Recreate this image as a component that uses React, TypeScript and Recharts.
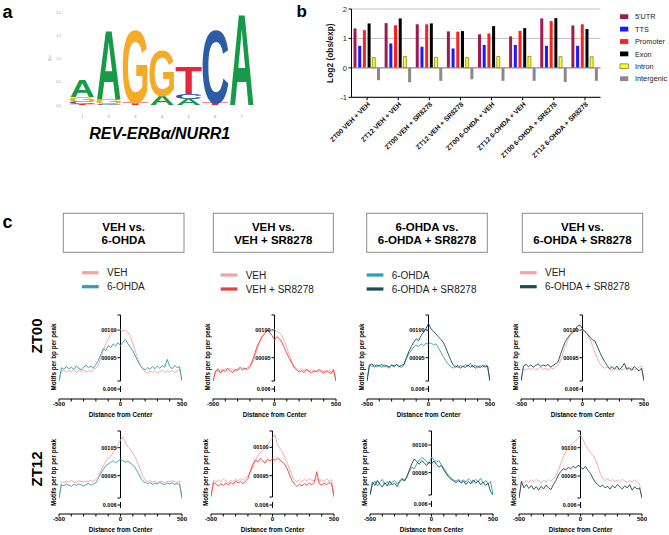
import React from 'react';
import {
  BarChart, Bar, XAxis, YAxis, CartesianGrid, ReferenceLine,
  LineChart, Line,
} from 'recharts';

const FF = '"Liberation Sans", Arial, Helvetica, sans-serif';

// ---------- Panel a: sequence logo ----------
const logoPositions = ['1', '2', '3', '4', '5', '6', '7'];
const logoLetters = [
  ['T', 'C', 'G', 'A'],
  ['C', 'G', 'A'],
  ['T', 'G'],
  ['A', 'G'],
  ['A', 'C', 'T'],
  ['T', 'C'],
  ['A'],
];
const logoBits = [
  [0.02, 0.05, 0.1, 0.36],
  [0.03, 0.1, 1.5],
  [0.05, 1.6],
  [0.2, 1.0],
  [0.13, 0.12, 0.6],
  [0.05, 1.6],
  [2.0],
];
const logoTicks = [0, 0.5, 1, 1.5, 2];

// ---------- Panel b: genomic distribution ----------
const regionCats = [
  'ZT00 VEH + VEH', 'ZT12 VEH + VEH', 'ZT00 VEH + SR8278', 'ZT12 VEH + SR8278',
  'ZT00 6-OHDA + VEH', 'ZT12 6-OHDA + VEH', 'ZT00 6-OHDA + SR8278', 'ZT12 6-OHDA + SR8278',
];
const utr5 = [1.34, 1.52, 1.48, 1.24, 1.14, 1.07, 1.68, 1.44];
const tts = [0.75, 0.83, 0.72, 0.66, 0.78, 0.78, 0.75, 0.75];
const promoter = [1.28, 1.45, 1.48, 1.23, 1.17, 1.26, 1.59, 1.48];
const exon = [1.51, 1.68, 1.51, 1.25, 1.42, 1.35, 1.69, 1.32];
const intron = [0.35, 0.39, 0.36, 0.35, 0.39, 0.39, 0.38, 0.38];
const intergenic = [-0.42, -0.49, -0.44, -0.39, -0.44, -0.44, -0.48, -0.44];
const regionTicks = [-1, 0, 1, 2];

// ---------- Panel c: motif density profiles ----------
const positions = [
  -500, -480, -460, -440, -420, -400, -380, -360, -340, -320, -300, -280, -260, -240, -220, -200, -180,
  -160, -140, -120, -100, -80, -60, -40, -20, 0, 20, 40, 60, 80, 100, 120, 140, 160, 180, 200, 220,
  240, 260, 280, 300, 320, 340, 360, 380, 400, 420, 440, 460, 480, 500,
];
const xTicks = [-500, -400, -300, -200, -100, 0, 100, 200, 300, 400, 500];
const xTickLabels = ['-500', '', '', '', '', '0', '', '', '', '', '500'];

const zt00_c1_veh = [0.00908, 0.00926, 0.00928, 0.00924, 0.00927, 0.00925, 0.00929, 0.00924, 0.00927, 0.00925, 0.00928, 0.00923, 0.00927, 0.00925, 0.00929, 0.00931, 0.00936, 0.00950, 0.00963, 0.00975, 0.00984, 0.00992, 0.00997, 0.00999, 0.01001, 0.01000, 0.00998, 0.01000, 0.00996, 0.00988, 0.00976, 0.00962, 0.00948, 0.00937, 0.00929, 0.00925, 0.00922, 0.00926, 0.00923, 0.00927, 0.00922, 0.00925, 0.00928, 0.00923, 0.00926, 0.00924, 0.00927, 0.00923, 0.00926, 0.00929, 0.00908];
const zt00_c1_ohda = [0.00908, 0.00932, 0.00929, 0.00934, 0.00930, 0.00933, 0.00929, 0.00935, 0.00931, 0.00928, 0.00933, 0.00936, 0.00932, 0.00935, 0.00931, 0.00938, 0.00945, 0.00956, 0.00966, 0.00963, 0.00972, 0.00968, 0.00975, 0.00971, 0.00977, 0.00972, 0.00978, 0.00983, 0.00975, 0.00969, 0.00962, 0.00953, 0.00944, 0.00936, 0.00931, 0.00928, 0.00932, 0.00929, 0.00934, 0.00930, 0.00935, 0.00931, 0.00936, 0.00933, 0.00947, 0.00934, 0.00930, 0.00936, 0.00932, 0.00934, 0.00908];
const zt00_c2_veh = [0.00908, 0.00927, 0.00925, 0.00929, 0.00926, 0.00930, 0.00927, 0.00931, 0.00928, 0.00926, 0.00930, 0.00928, 0.00932, 0.00929, 0.00933, 0.00935, 0.00940, 0.00952, 0.00966, 0.00980, 0.00990, 0.00995, 0.00999, 0.01000, 0.00998, 0.01001, 0.00997, 0.00995, 0.00990, 0.00980, 0.00968, 0.00956, 0.00944, 0.00935, 0.00930, 0.00927, 0.00931, 0.00926, 0.00929, 0.00925, 0.00928, 0.00924, 0.00927, 0.00925, 0.00928, 0.00926, 0.00923, 0.00927, 0.00925, 0.00929, 0.00908];
const zt00_c2_vehSR = [0.00908, 0.00924, 0.00930, 0.00922, 0.00928, 0.00925, 0.00931, 0.00926, 0.00923, 0.00929, 0.00927, 0.00933, 0.00928, 0.00931, 0.00929, 0.00934, 0.00944, 0.00958, 0.00971, 0.00979, 0.00988, 0.00993, 0.01000, 0.00996, 0.00990, 0.00982, 0.00988, 0.00984, 0.00978, 0.00968, 0.00958, 0.00949, 0.00940, 0.00932, 0.00928, 0.00924, 0.00927, 0.00923, 0.00929, 0.00926, 0.00922, 0.00927, 0.00924, 0.00929, 0.00925, 0.00922, 0.00927, 0.00924, 0.00921, 0.00928, 0.00908];
const zt00_c3_ohda = [0.00908, 0.00938, 0.00934, 0.00937, 0.00933, 0.00936, 0.00932, 0.00937, 0.00934, 0.00931, 0.00936, 0.00933, 0.00937, 0.00935, 0.00932, 0.00937, 0.00948, 0.00957, 0.00963, 0.00969, 0.00973, 0.00970, 0.00975, 0.00972, 0.00976, 0.00974, 0.00977, 0.00973, 0.00975, 0.00968, 0.00960, 0.00952, 0.00945, 0.00939, 0.00934, 0.00931, 0.00935, 0.00932, 0.00936, 0.00933, 0.00938, 0.00934, 0.00940, 0.00933, 0.00937, 0.00932, 0.00936, 0.00933, 0.00937, 0.00935, 0.00908];
const zt00_c3_ohdaSR = [0.00908, 0.00936, 0.00939, 0.00933, 0.00937, 0.00935, 0.00938, 0.00934, 0.00936, 0.00933, 0.00937, 0.00935, 0.00938, 0.00934, 0.00936, 0.00938, 0.00950, 0.00961, 0.00970, 0.00978, 0.00984, 0.00981, 0.00990, 0.00996, 0.01003, 0.01012, 0.01002, 0.00998, 0.00993, 0.00988, 0.00983, 0.00978, 0.00968, 0.00957, 0.00946, 0.00937, 0.00933, 0.00936, 0.00931, 0.00935, 0.00932, 0.00937, 0.00933, 0.00936, 0.00931, 0.00935, 0.00932, 0.00936, 0.00933, 0.00935, 0.00908];
const zt00_c4_veh = [0.00908, 0.00930, 0.00928, 0.00931, 0.00929, 0.00932, 0.00928, 0.00930, 0.00933, 0.00929, 0.00931, 0.00928, 0.00932, 0.00930, 0.00933, 0.00936, 0.00944, 0.00957, 0.00970, 0.00981, 0.00990, 0.00995, 0.00998, 0.01000, 0.01001, 0.00999, 0.00997, 0.00992, 0.00984, 0.00972, 0.00960, 0.00949, 0.00940, 0.00934, 0.00931, 0.00933, 0.00930, 0.00928, 0.00932, 0.00929, 0.00931, 0.00928, 0.00930, 0.00933, 0.00929, 0.00931, 0.00928, 0.00930, 0.00933, 0.00935, 0.00908];
const zt00_c4_ohdaSR = [0.00908, 0.00935, 0.00938, 0.00934, 0.00937, 0.00933, 0.00936, 0.00939, 0.00934, 0.00937, 0.00935, 0.00938, 0.00933, 0.00936, 0.00939, 0.00942, 0.00955, 0.00968, 0.00979, 0.00986, 0.00992, 0.00996, 0.01001, 0.01007, 0.01009, 0.01002, 0.00997, 0.00993, 0.00987, 0.00983, 0.00980, 0.00971, 0.00960, 0.00951, 0.00943, 0.00936, 0.00930, 0.00934, 0.00929, 0.00935, 0.00928, 0.00933, 0.00940, 0.00929, 0.00932, 0.00927, 0.00934, 0.00930, 0.00926, 0.00931, 0.00908];

const zt12_c1_veh = [0.00870, 0.00930, 0.00925, 0.00931, 0.00927, 0.00933, 0.00928, 0.00926, 0.00932, 0.00929, 0.00927, 0.00931, 0.00928, 0.00933, 0.00930, 0.00936, 0.00950, 0.00968, 0.00985, 0.01000, 0.01012, 0.01020, 0.01032, 0.01045, 0.01060, 0.01078, 0.01089, 0.01070, 0.01052, 0.01045, 0.01030, 0.01015, 0.00995, 0.00972, 0.00950, 0.00935, 0.00929, 0.00932, 0.00927, 0.00930, 0.00926, 0.00931, 0.00928, 0.00925, 0.00930, 0.00927, 0.00932, 0.00928, 0.00926, 0.00931, 0.00870];
const zt12_c1_ohda = [0.00870, 0.00918, 0.00914, 0.00921, 0.00916, 0.00912, 0.00919, 0.00915, 0.00921, 0.00917, 0.00913, 0.00919, 0.00922, 0.00916, 0.00921, 0.00925, 0.00940, 0.00958, 0.00972, 0.00985, 0.00992, 0.00998, 0.01003, 0.00996, 0.01002, 0.01009, 0.01003, 0.00998, 0.01002, 0.00995, 0.00988, 0.00978, 0.00962, 0.00945, 0.00932, 0.00926, 0.00921, 0.00925, 0.00919, 0.00924, 0.00920, 0.00926, 0.00921, 0.00918, 0.00924, 0.00920, 0.00925, 0.00919, 0.00922, 0.00918, 0.00870];
const zt12_c2_veh = [0.00913, 0.00942, 0.00939, 0.00943, 0.00940, 0.00944, 0.00941, 0.00938, 0.00942, 0.00940, 0.00944, 0.00941, 0.00945, 0.00942, 0.00946, 0.00949, 0.00956, 0.00965, 0.00975, 0.00985, 0.00990, 0.00995, 0.01000, 0.01004, 0.01012, 0.01016, 0.01022, 0.01005, 0.00998, 0.00992, 0.00982, 0.00972, 0.00961, 0.00950, 0.00942, 0.00939, 0.00943, 0.00940, 0.00944, 0.00941, 0.00945, 0.00942, 0.00940, 0.00944, 0.00941, 0.00943, 0.00940, 0.00944, 0.00941, 0.00943, 0.00913];
const zt12_c2_vehSR = [0.00913, 0.00938, 0.00935, 0.00932, 0.00936, 0.00933, 0.00937, 0.00934, 0.00938, 0.00935, 0.00941, 0.00937, 0.00940, 0.00936, 0.00940, 0.00945, 0.00958, 0.00970, 0.00978, 0.00974, 0.00980, 0.00976, 0.00972, 0.00979, 0.00976, 0.00980, 0.00977, 0.00981, 0.00978, 0.00974, 0.00970, 0.00962, 0.00951, 0.00941, 0.00935, 0.00931, 0.00935, 0.00932, 0.00936, 0.00933, 0.00937, 0.00934, 0.00938, 0.00957, 0.00936, 0.00933, 0.00937, 0.00934, 0.00938, 0.00936, 0.00913];
const zt12_c3_ohda = [0.00910, 0.00928, 0.00935, 0.00926, 0.00932, 0.00938, 0.00929, 0.00934, 0.00927, 0.00933, 0.00936, 0.00930, 0.00935, 0.00940, 0.00937, 0.00944, 0.00952, 0.00960, 0.00957, 0.00966, 0.00973, 0.00977, 0.00975, 0.00970, 0.00966, 0.00978, 0.00974, 0.00969, 0.00972, 0.00964, 0.00958, 0.00951, 0.00945, 0.00940, 0.00937, 0.00935, 0.00938, 0.00934, 0.00937, 0.00933, 0.00939, 0.00935, 0.00932, 0.00938, 0.00934, 0.00940, 0.00931, 0.00936, 0.00930, 0.00934, 0.00910];
const zt12_c3_ohdaSR = [0.00910, 0.00933, 0.00927, 0.00936, 0.00929, 0.00924, 0.00932, 0.00926, 0.00935, 0.00928, 0.00931, 0.00925, 0.00933, 0.00938, 0.00935, 0.00942, 0.00955, 0.00966, 0.00975, 0.00970, 0.00965, 0.00972, 0.00968, 0.00963, 0.00969, 0.00966, 0.00971, 0.00965, 0.00960, 0.00963, 0.00955, 0.00948, 0.00942, 0.00938, 0.00935, 0.00932, 0.00936, 0.00931, 0.00935, 0.00929, 0.00934, 0.00930, 0.00937, 0.00931, 0.00935, 0.00928, 0.00933, 0.00927, 0.00931, 0.00916, 0.00910];
const zt12_c4_veh = [0.00911, 0.00941, 0.00938, 0.00942, 0.00939, 0.00943, 0.00940, 0.00944, 0.00941, 0.00938, 0.00942, 0.00940, 0.00944, 0.00941, 0.00945, 0.00950, 0.00960, 0.00972, 0.00984, 0.00993, 0.00999, 0.01004, 0.01008, 0.01012, 0.01017, 0.01022, 0.01015, 0.01005, 0.00998, 0.00992, 0.00987, 0.00980, 0.00968, 0.00955, 0.00946, 0.00942, 0.00945, 0.00941, 0.00944, 0.00940, 0.00943, 0.00940, 0.00944, 0.00941, 0.00938, 0.00942, 0.00939, 0.00943, 0.00940, 0.00936, 0.00911];
const zt12_c4_ohdaSR = [0.00911, 0.00940, 0.00929, 0.00935, 0.00928, 0.00933, 0.00926, 0.00931, 0.00925, 0.00932, 0.00927, 0.00934, 0.00929, 0.00926, 0.00935, 0.00942, 0.00952, 0.00958, 0.00963, 0.00961, 0.00965, 0.00963, 0.00967, 0.00964, 0.00969, 0.00966, 0.00962, 0.00967, 0.00960, 0.00955, 0.00946, 0.00939, 0.00935, 0.00931, 0.00934, 0.00929, 0.00932, 0.00927, 0.00933, 0.00929, 0.00935, 0.00931, 0.00927, 0.00933, 0.00929, 0.00935, 0.00925, 0.00931, 0.00927, 0.00929, 0.00911];

const COL_VEH = '#f5a3a3';
const COL_OHDA = '#2f9db5';
const COL_VEHSR = '#f23a3a';
const COL_OHDASR = '#1c4b52';

const LETTER_COLORS: Record<string, string> = { A: '#17994a', C: '#2a5ca8', G: '#f5ab2a', T: '#e3283b' };
const LETTER_INK: Record<string, [number, number]> = {
  A: [0.0, 0.722], C: [0.045, 0.68], G: [0.045, 0.735], T: [0.02, 0.59],
};

const LetterShape = (props: any) => {
  const { x, y, width, height, payload, rank } = props;
  const letter = payload ? payload['l' + rank] : undefined;
  if (!letter || !height || height <= 0) return null;
  const [l, r] = LETTER_INK[letter];
  const sx = width / ((r - l) * 100);
  const sy = height / 71.6;
  return (
    <text
      transform={`translate(${x - l * 100 * sx},${y + height}) scale(${sx},${sy})`}
      x={0} y={0} fontSize={100} fontWeight="bold" fontFamily={FF}
      fill={LETTER_COLORS[letter]}
    >{letter}</text>
  );
};

const LogoChart = () => {
  const data = logoPositions.map((p, i) => {
    const row: any = { pos: p };
    logoLetters[i].forEach((l, k) => { row['h' + k] = logoBits[i][k]; row['l' + k] = l; });
    return row;
  });
  return (
    <div style={{ position: 'absolute', left: 40, top: 0 }}>
      <BarChart width={225} height={122} data={data} margin={{ top: 12.3, right: 10, bottom: 2, left: 9 }} barCategoryGap="3%">
        <XAxis dataKey="pos" axisLine={false} tickLine={false} height={14.7} tickMargin={4}
          tick={{ fontSize: 4, fill: '#888', fontFamily: FF }} />
        <YAxis domain={[0, 2]} ticks={logoTicks} width={20} axisLine={false} tickLine={false}
          tickFormatter={(v: number) => v.toFixed(1)} tick={{ fontSize: 3.5, fill: '#999', fontFamily: FF }} />
        {[0, 1, 2, 3].map((k) => (
          <Bar key={k} dataKey={'h' + k} stackId="s" isAnimationActive={false}
            shape={(p: any) => <LetterShape {...p} rank={k} />} />
        ))}
      </BarChart>
    </div>
  );
};

const regionSeries = [
  { key: 'utr5', name: "5'UTR", color: '#a11a4f', values: utr5 },
  { key: 'tts', name: 'TTS', color: '#1a1aff', values: tts },
  { key: 'promoter', name: 'Promoter', color: '#ff1f1f', values: promoter },
  { key: 'exon', name: 'Exon', color: '#000000', values: exon },
  { key: 'intron', name: 'Intron', color: '#ffff00', values: intron },
  { key: 'intergenic', name: 'Intergenic', color: '#8a8a8a', values: intergenic },
];

const CatTick = (props: any) => {
  const { x, y, payload } = props;
  return (
    <text transform={`translate(${x + 2},${y + 1}) rotate(-45)`} textAnchor="end" fontSize={6.8}
      fontWeight="bold" fontFamily={FF} fill="#111" dy="0.3em">{payload.value}</text>
  );
};

const RegionChart = () => {
  const data = regionCats.map((c, i) => {
    const row: any = { cat: c };
    regionSeries.forEach((s) => { row[s.key] = s.values[i]; });
    return row;
  });
  return (
    <div style={{ position: 'absolute', left: 300, top: 0 }}>
      <BarChart width={369} height={170} data={data} margin={{ top: 9, right: 68.5, bottom: 2.7, left: 8.5 }}
        barSize={3} barGap={1.7}>
        <CartesianGrid vertical={false} stroke="#b0b0b0" strokeWidth={0.8} />
        <XAxis dataKey="cat" interval={0} height={70} tickSize={3} tickMargin={2} stroke="#000"
          tick={<CatTick />} />
        <YAxis domain={[-1, 2]} ticks={regionTicks} width={43} stroke="#000" tickSize={3} tickMargin={1.5}
          tick={{ fontSize: 7.5, fill: '#222', fontFamily: FF }}
          label={{ value: 'Log2 (obs/exp)', angle: -90, position: 'center', fontSize: 8.4, fontWeight: 'bold', fill: '#111', fontFamily: FF }} />
        <ReferenceLine y={0} stroke="#8a8a8a" strokeWidth={1} />
        {regionSeries.map((s) => (
          <Bar key={s.key} dataKey={s.key} name={s.name} fill={s.color} isAnimationActive={false}
            stroke={s.key === 'intron' ? '#555' : undefined} strokeWidth={s.key === 'intron' ? 0.6 : 0} />
        ))}
      </BarChart>
    </div>
  );
};

type PlotCfg = {
  left: number; width: number; top: number; bottom: number;
  dom: [number, number]; ticks: { v: number; label: string }[]; breakY: number; lowY: number;
};

const SmallPlot = ({ cfg, s1, s2, c1, c2 }: { cfg: PlotCfg; s1: number[]; s2: number[]; c1: string; c2: string }) => {
  const data = positions.map((x, i) => ({ x, a: s1[i], b: s2[i] }));
  const { left, width, top, bottom, dom, ticks, breakY, lowY } = cfg;
  const plotH = bottom - top;
  const vpp = (dom[1] - dom[0]) / plotH;
  const pxToV = (py: number) => dom[0] + (bottom - py) * vpp;
  const breakV = pxToV(breakY);
  const lowV = pxToV(lowY);
  const tk = 3 * (1000 / width);
  const lblStyle = { fontSize: 5.5, fontWeight: 'bold', fill: '#000', fontFamily: FF };
  return (
    <div style={{ position: 'absolute', left: left - 10, top: top - 4 }}>
      <LineChart width={10 + width + 10} height={4 + plotH + 20 + 1} data={data}
        margin={{ top: 4, right: 10, bottom: 1, left: 0 }}>
        <XAxis dataKey="x" type="number" domain={[-500, 500]} ticks={xTicks} interval={0} allowDataOverflow
          tickFormatter={(v: number) => xTickLabels[xTicks.indexOf(v)] ?? ''}
          tickSize={2.5} tickMargin={0.5} height={20} stroke="#000"
          tick={{ fontSize: 6, fontWeight: 'bold', fill: '#000', fontFamily: FF }}
          label={{ value: 'Distance from Center', position: 'insideBottom', offset: 2, fontSize: 6.3, fontWeight: 'bold', fill: '#000', fontFamily: FF }} />
        <YAxis type="number" domain={dom} allowDataOverflow width={10} tick={false} axisLine={false} tickLine={false}
          label={{ value: 'Motifs per bp per peak', angle: -90, position: 'center', fontSize: 6.3, fontWeight: 'bold', fill: '#000', fontFamily: FF }} />
        <ReferenceLine segment={[{ x: 0, y: breakV }, { x: 0, y: dom[1] }]} stroke="#000" strokeWidth={1} ifOverflow="visible" />
        <ReferenceLine segment={[{ x: -tk, y: dom[1] }, { x: 0, y: dom[1] }]} stroke="#000" strokeWidth={1} ifOverflow="visible" />
        <ReferenceLine segment={[{ x: -tk, y: breakV }, { x: 0, y: breakV }]} stroke="#000" strokeWidth={1} ifOverflow="visible" />
        <ReferenceLine segment={[{ x: 0, y: lowV - 3 * vpp }, { x: 0, y: lowV + 3 * vpp }]} stroke="#000" strokeWidth={1} ifOverflow="visible" />
        <ReferenceLine segment={[{ x: -tk, y: lowV }, { x: 0, y: lowV }]} stroke="#000" strokeWidth={1} ifOverflow="visible"
          label={{ value: '0.006', position: 'left', offset: 1, ...lblStyle }} />
        {ticks.map((t) => (
          <ReferenceLine key={t.label} segment={[{ x: -tk, y: t.v }, { x: 0, y: t.v }]} stroke="#000" strokeWidth={1}
            ifOverflow="visible" label={{ value: t.label, position: 'left', offset: 1, ...lblStyle }} />
        ))}
        <Line type="linear" dataKey="a" stroke={c1} strokeWidth={0.9} dot={false} isAnimationActive={false} />
        <Line type="linear" dataKey="b" stroke={c2} strokeWidth={0.9} dot={false} isAnimationActive={false} />
      </LineChart>
    </div>
  );
};

const TOP_TICKS = [{ v: 0.0100, label: '00100' }, { v: 0.0095, label: '00095' }];
const topCfg = (left: number): PlotCfg => ({
  left, width: 123, top: 315, bottom: 399, dom: [0.0087545, 0.0102708], ticks: TOP_TICKS, breakY: 381, lowY: 389,
});

const plotsTop = [
  { cfg: topCfg(58.5), s1: zt00_c1_veh, s2: zt00_c1_ohda, c1: COL_VEH, c2: COL_OHDA },
  { cfg: topCfg(212.5), s1: zt00_c2_veh, s2: zt00_c2_vehSR, c1: COL_VEH, c2: COL_VEHSR },
  { cfg: topCfg(366.5), s1: zt00_c3_ohda, s2: zt00_c3_ohdaSR, c1: COL_OHDA, c2: COL_OHDASR },
  { cfg: topCfg(520.5), s1: zt00_c4_veh, s2: zt00_c4_ohdaSR, c1: COL_VEH, c2: COL_OHDASR },
];
const plotsBottom = [
  { cfg: { left: 58.5, width: 123, top: 431, bottom: 514, dom: [0.0081321, 0.0110964] as [number, number], ticks: [{ v: 0.0105, label: '00105' }, { v: 0.0095, label: '00095' }], breakY: 498, lowY: 505 }, s1: zt12_c1_veh, s2: zt12_c1_ohda, c1: COL_VEH, c2: COL_OHDA },
  { cfg: { left: 211, width: 123, top: 431, bottom: 514, dom: [0.0088257, 0.0102870] as [number, number], ticks: TOP_TICKS, breakY: 497, lowY: 505 }, s1: zt12_c2_veh, s2: zt12_c2_vehSR, c1: COL_VEH, c2: COL_VEHSR },
  { cfg: { left: 370, width: 123, top: 431, bottom: 514, dom: [0.0087545, 0.0102527] as [number, number], ticks: TOP_TICKS, breakY: 495, lowY: 504 }, s1: zt12_c3_ohda, s2: zt12_c3_ohdaSR, c1: COL_OHDA, c2: COL_OHDASR },
  { cfg: { left: 518.5, width: 123, top: 431, bottom: 514, dom: [0.0088286, 0.0102951] as [number, number], ticks: TOP_TICKS, breakY: 498, lowY: 505 }, s1: zt12_c4_veh, s2: zt12_c4_ohdaSR, c1: COL_VEH, c2: COL_OHDASR },
];

const boxes = [
  { x1: 63.3, x2: 184, l1: 'VEH vs.', l2: '6-OHDA' },
  { x1: 213.3, x2: 333.3, l1: 'VEH vs.', l2: 'VEH + SR8278' },
  { x1: 366.7, x2: 487.3, l1: '6-OHDA vs.', l2: '6-OHDA + SR8278' },
  { x1: 522.3, x2: 642.7, l1: 'VEH vs.', l2: '6-OHDA + SR8278' },
];
const legends = [
  { x: 82, y: 272.7, items: [{ n: 'VEH', c: COL_VEH }, { n: '6-OHDA', c: COL_OHDA }] },
  { x: 220.7, y: 275, items: [{ n: 'VEH', c: COL_VEH }, { n: 'VEH + SR8278', c: COL_VEHSR }] },
  { x: 366.7, y: 275, items: [{ n: '6-OHDA', c: COL_OHDA }, { n: '6-OHDA + SR8278', c: COL_OHDASR }] },
  { x: 520, y: 272.7, items: [{ n: 'VEH', c: COL_VEH }, { n: '6-OHDA + SR8278', c: COL_OHDASR }] },
];

const Overlay = () => (
  <svg width={669} height={535} style={{ position: 'absolute', left: 0, top: 0, pointerEvents: 'none' }}
    fontFamily={FF}>
    <text x={2.5} y={18} fontSize={18} fontWeight="bold">a</text>
    <text x={296.5} y={17} fontSize={17} fontWeight="bold">b</text>
    <text x={2.5} y={228} fontSize={18} fontWeight="bold">c</text>
    <text x={159.7} y={139} fontSize={16} fontWeight="bold" fontStyle="italic" textAnchor="middle">REV-ERBα/NURR1</text>
    <text transform="translate(51,58) rotate(-90)" fontSize={3.5} fill="#999" textAnchor="middle">Bits</text>
    {regionSeries.map((s, i) => {
      const yc = 16.7 + i * 12.4;
      return (
        <g key={s.key}>
          <rect x={620} y={yc - 2.4} width={8.3} height={4.8} fill={s.color}
            stroke={s.key === 'intron' ? '#555' : 'none'} strokeWidth={0.6} />
          <text x={635} y={yc + 2.6} fontSize={7.3} fill="#222">{s.name}</text>
        </g>
      );
    })}
    {boxes.map((b, i) => {
      const cx = (b.x1 + b.x2) / 2;
      return (
        <g key={i}>
          <rect x={b.x1} y={213.3} width={b.x2 - b.x1} height={39} fill="none" stroke="#8c8c8c" strokeWidth={1} />
          <text x={cx} y={231.4} fontSize={11.5} fontWeight="bold" textAnchor="middle">{b.l1}</text>
          <text x={cx} y={244.1} fontSize={11.5} fontWeight="bold" textAnchor="middle">{b.l2}</text>
        </g>
      );
    })}
    {legends.map((lg, i) => (
      <g key={i}>
        {lg.items.map((it, k) => {
          const yc = lg.y + k * 14;
          return (
            <g key={k}>
              <rect x={lg.x} y={yc - 1.6} width={16.7} height={3.2} fill={it.c} />
              <text x={lg.x + 25} y={yc + 3.6} fontSize={10} fill="#222">{it.n}</text>
            </g>
          );
        })}
      </g>
    ))}
    <text transform="translate(37,336) rotate(-90)" y={5.4} fontSize={15} fontWeight="bold" textAnchor="middle">ZT00</text>
    <text transform="translate(37,469) rotate(-90)" y={5.4} fontSize={15} fontWeight="bold" textAnchor="middle">ZT12</text>
  </svg>
);

export default function App() {
  return (
    <div style={{ position: 'absolute', left: 0, top: 0, width: 669, height: 535, background: '#fff', overflow: 'hidden', fontFamily: FF }}>
      <LogoChart />
      <RegionChart />
      {plotsTop.map((p, i) => <SmallPlot key={'t' + i} {...p} />)}
      {plotsBottom.map((p, i) => <SmallPlot key={'b' + i} {...p} />)}
      <Overlay />
    </div>
  );
}
